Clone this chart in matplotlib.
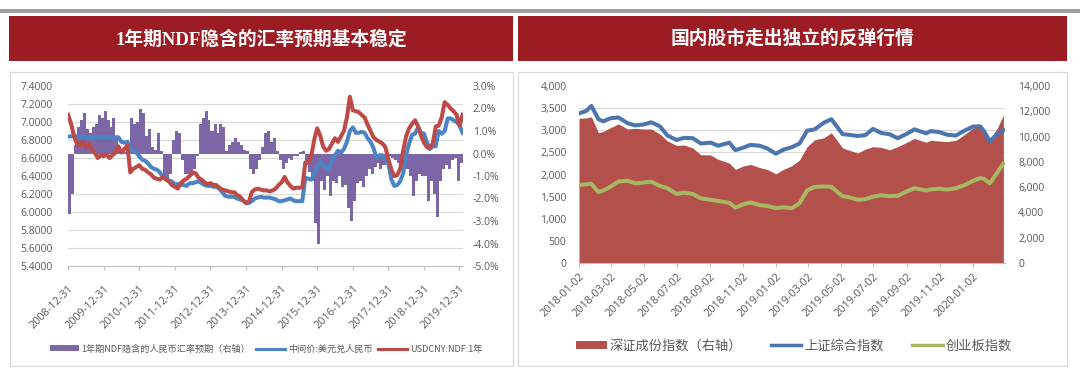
import matplotlib
matplotlib.use("Agg")
import matplotlib.pyplot as plt
import matplotlib.ticker as mticker
from matplotlib.patches import Rectangle, Patch
from matplotlib.lines import Line2D
import pandas as pd

plt.rcParams['font.family'] = ['Open Sans', 'Noto Sans CJK SC', 'DejaVu Sans']

# ---------------- data: left chart (monthly, start of month) ----------------
left_months = pd.date_range("2009-01-01", periods=134, freq="MS")

parity = [  # 中间价:美元兑人民币
    6.84, 6.84, 6.84, 6.84, 6.83, 6.83, 6.83, 6.83, 6.83, 6.83, 6.83, 6.83,
    6.83, 6.83, 6.83, 6.83, 6.83, 6.83, 6.78, 6.77, 6.78, 6.70, 6.67, 6.66,
    6.62, 6.58, 6.57, 6.54, 6.50, 6.48, 6.47, 6.44, 6.39, 6.38, 6.35, 6.34,
    6.31, 6.31, 6.30, 6.30, 6.29, 6.32, 6.32, 6.33, 6.34, 6.32, 6.30, 6.29,
    6.29, 6.28, 6.28, 6.26, 6.22, 6.18, 6.17, 6.17, 6.17, 6.15, 6.14, 6.13,
    6.10, 6.10, 6.12, 6.15, 6.16, 6.17, 6.16, 6.16, 6.16, 6.15, 6.14, 6.12,
    6.12, 6.13, 6.14, 6.15, 6.13, 6.12, 6.12, 6.12, 6.38, 6.37, 6.36, 6.42,
    6.50, 6.55, 6.52, 6.48, 6.48, 6.58, 6.63, 6.68, 6.66, 6.70, 6.78, 6.90,
    6.94, 6.88, 6.88, 6.89, 6.88, 6.82, 6.78, 6.71, 6.60, 6.63, 6.63, 6.59,
    6.53, 6.36, 6.29, 6.30, 6.34, 6.43, 6.63, 6.76, 6.86, 6.87, 6.94, 6.88,
    6.87, 6.77, 6.70, 6.73, 6.73, 6.90, 6.87, 6.90, 7.04, 7.04, 7.02, 7.00,
    6.96, 6.88,
]

ndf = [  # USDCNY:NDF:1年
    7.08, 6.98, 6.85, 6.76, 6.74, 6.78, 6.72, 6.76, 6.70, 6.66, 6.60, 6.63,
    6.62, 6.64, 6.60, 6.63, 6.66, 6.73, 6.66, 6.70, 6.74, 6.44, 6.48, 6.50,
    6.52, 6.48, 6.47, 6.44, 6.42, 6.38, 6.37, 6.36, 6.39, 6.36, 6.34, 6.30,
    6.28, 6.26, 6.32, 6.35, 6.37, 6.40, 6.44, 6.43, 6.38, 6.36, 6.33, 6.31,
    6.32, 6.30, 6.30, 6.27, 6.25, 6.24, 6.23, 6.22, 6.22, 6.19, 6.17, 6.13,
    6.10, 6.12, 6.22, 6.25, 6.26, 6.25, 6.24, 6.24, 6.23, 6.24, 6.26, 6.30,
    6.33, 6.39, 6.33, 6.29, 6.26, 6.27, 6.27, 6.27, 6.55, 6.55, 6.62, 6.80,
    6.93, 6.85, 6.73, 6.68, 6.70, 6.76, 6.82, 6.78, 6.84, 6.90, 7.05, 7.28,
    7.13, 7.12, 7.11, 7.08, 7.05, 6.97, 6.90, 6.83, 6.80, 6.78, 6.76, 6.72,
    6.58, 6.47, 6.40, 6.41, 6.48, 6.68, 6.84, 6.93, 6.98, 7.02, 6.95, 6.85,
    6.77, 6.72, 6.71, 6.76, 6.95, 6.96, 7.05, 7.22, 7.19, 7.15, 7.12, 7.08,
    6.96, 7.08,
]

implied = [  # 1年期NDF隐含的人民币汇率预期（右轴）, %
    -2.7, -1.8, 0.4, 1.2, 1.5, 1.8, 1.1, 0.9, 1.2, 1.3, 1.7, 1.6,
    1.9, 1.5, 1.2, 1.6, 0.7, 0.3, 0.05, 0.05, 0.4, 1.6, 1.3, 1.4,
    2.0, 1.8, 0.8, 1.1, 0.3, 0.15, 0.9, 0.1, -1.0, -1.2, -0.9, 0.6,
    1.0, 0.9, -0.3, -0.9, -0.9, -1.0, -0.7, -0.1, 1.3, 1.6, 1.9, 1.5,
    1.0, 1.3, 0.9, 1.3, 1.2, 0.1, 0.4, 0.5, 0.7, 0.5, 0.4, 0.15,
    0.1, -0.7, -0.9, -0.7, -0.3, 0.3, 0.9, 1.0, 0.5, 0.7, 0.1, -0.3,
    -0.7, -0.4, -0.2, -0.3, -0.1, -0.1, 0.05, 0.1, -0.5, -0.8, -1.2, -3.1,
    -4.0, -1.2, -1.6, -1.0, -1.9, -1.2, -1.3, -1.0, -1.5, -1.4, -2.4, -3.0,
    -2.1, -1.3, -1.2, -1.5, -1.0, -0.7, -0.9, -0.6, -0.4, -0.7, -0.5, -0.2,
    -0.1, -0.2, -0.3, -0.4, -0.5, -0.6, -0.7, -1.0, -1.9, -1.2, -0.9, -1.0,
    -1.0, -2.1, -1.2, -1.8, -2.8, -1.2, -0.7, -0.5, -0.7, -0.3, -0.2, -1.2,
    -0.4, -1.1,
]

left_ticks = ["2008-12-31", "2009-12-31", "2010-12-31", "2011-12-31",
              "2012-12-31", "2013-12-31", "2014-12-31", "2015-12-31",
              "2016-12-31", "2017-12-31", "2018-12-31", "2019-12-31"]
left_labels = ["1年期NDF隐含的人民币汇率预期（右轴）", "中间价:美元兑人民币", "USDCNY:NDF:1年"]

# ---------------- data: right chart ----------------
right_dates = [
    "2018-01-02", "2018-01-16", "2018-01-25", "2018-02-07", "2018-02-16",
    "2018-03-01", "2018-03-16", "2018-04-02", "2018-04-16", "2018-05-02",
    "2018-05-16", "2018-06-01", "2018-06-15", "2018-07-02", "2018-07-16",
    "2018-08-01", "2018-08-16", "2018-09-03", "2018-09-17", "2018-10-08",
    "2018-10-19", "2018-11-01", "2018-11-16", "2018-12-03", "2018-12-17",
    "2019-01-02", "2019-01-16", "2019-02-01", "2019-02-15", "2019-03-01",
    "2019-03-15", "2019-04-01", "2019-04-15", "2019-05-06", "2019-05-16",
    "2019-06-03", "2019-06-17", "2019-07-01", "2019-07-16", "2019-08-01",
    "2019-08-16", "2019-09-02", "2019-09-16", "2019-10-08", "2019-10-16",
    "2019-11-01", "2019-11-15", "2019-12-02", "2019-12-16", "2020-01-02",
    "2020-01-16", "2020-01-23", "2020-02-03", "2020-02-17", "2020-02-28",
]
szci = [  # 深证成份指数（右轴）
    11440, 11480, 11560, 10300, 10400, 10700, 11000, 10600, 10650, 10600,
    10600, 10200, 9650, 9300, 9330, 9100, 8560, 8550, 8200, 7900,
    7400, 7650, 7800, 7550, 7400, 7050, 7400, 7700, 8150, 9200,
    9750, 9900, 10300, 9100, 8950, 8700, 9000, 9200, 9150, 8950,
    9200, 9550, 9850, 9550, 9700, 9650, 9600, 9700, 10100, 10650,
    10900, 10500, 9750, 10700, 11700,
]
shci = [  # 上证综合指数
    3380, 3440, 3550, 3250, 3200, 3270, 3290, 3160, 3110, 3130,
    3180, 3090, 2880, 2780, 2830, 2820, 2700, 2720, 2650, 2720,
    2550, 2600, 2670, 2650, 2590, 2470, 2560, 2620, 2700, 2990,
    3020, 3170, 3250, 2910, 2900, 2870, 2890, 3030, 2940, 2910,
    2820, 2920, 3020, 2930, 2980, 2960, 2900, 2880, 2980, 3080,
    3090, 2980, 2750, 2920, 3000,
]
chinext = [  # 创业板指数
    1760, 1780, 1790, 1600, 1640, 1720, 1840, 1860, 1800, 1820,
    1840, 1740, 1690, 1560, 1590, 1560, 1460, 1430, 1400, 1360,
    1250, 1320, 1370, 1310, 1290, 1240, 1260, 1240, 1350, 1640,
    1720, 1730, 1720, 1510, 1490, 1430, 1440, 1500, 1530, 1510,
    1520, 1620, 1690, 1640, 1660, 1680, 1660, 1690, 1750, 1850,
    1920, 1900, 1800, 2050, 2250,
]
right_ticks = ["2018-01-02", "2018-03-02", "2018-05-02", "2018-07-02",
               "2018-09-02", "2018-11-02", "2019-01-02", "2019-03-02",
               "2019-05-02", "2019-07-02", "2019-09-02", "2019-11-02",
               "2020-01-02"]
right_labels = ["深证成份指数（右轴）", "上证综合指数", "创业板指数"]

left_title = "1年期NDF隐含的汇率预期基本稳定"
right_title = "国内股市走出独立的反弹行情"

# ---------------- styles ----------------
TITLE_RED = "#9C1C24"
PURPLE = "#7D66A6"
BLUE_L = "#4A84C4"
RED_L = "#BD4A46"
AREA_RED = "#B3504B"
BLUE_R = "#4B75AC"
GREEN_R = "#A6B862"
GRID = "#d9d9d9"
TXT = "#595959"

W, H = 1080, 371
fig = plt.figure(figsize=(W / 100, H / 100), dpi=100)
fig.patch.set_facecolor("white")


def frect(x0, y0, x1, y1, **kw):
    r = Rectangle((x0 / W, 1 - y1 / H), (x1 - x0) / W, (y1 - y0) / H,
                  transform=fig.transFigure, **kw)
    fig.add_artist(r)
    return r


frect(0, 8.5, 1080, 12.5, facecolor="#9e9e9e", edgecolor="none", zorder=-10)
frect(9, 16, 513, 61, facecolor=TITLE_RED, edgecolor="none", zorder=-10)
frect(518, 16, 1067, 61, facecolor=TITLE_RED, edgecolor="none", zorder=-10)
frect(9.5, 72, 513, 366, facecolor="white", edgecolor=GRID, lw=0.9, zorder=-10)
frect(517.5, 72, 1067, 366, facecolor="white", edgecolor=GRID, lw=0.9, zorder=-10)

title_font = ["Liberation Serif", "Noto Sans CJK SC"]
fig.text(261 / W, 1 - 39 / H, left_title, color="white", fontsize=13.5,
         fontweight="bold", family=title_font, ha="center", va="center")
fig.text(792 / W, 1 - 39 / H, right_title, color="white", fontsize=13.5,
         fontweight="bold", family=title_font, ha="center", va="center")


def style_axes(ax, ax2, xpad):
    for a in (ax, ax2):
        for s in a.spines.values():
            s.set_visible(False)
    ax.spines["bottom"].set_visible(True)
    ax.spines["bottom"].set_color("#bfbfbf")
    ax.spines["bottom"].set_linewidth(0.8)
    ax.tick_params(axis="x", length=3, width=0.8, color="#bfbfbf",
                   labelsize=7.8, labelcolor=TXT, pad=xpad)
    for lbl in ax.get_xticklabels():
        lbl.set_rotation(45)
        lbl.set_ha("right")
        lbl.set_va("top")
        lbl.set_rotation_mode("anchor")


# ---------------- left chart ----------------
axL = fig.add_axes([68 / W, 1 - 266 / H, (463 - 68) / W, (266 - 86) / H])
axL2 = axL.twinx()
axL2.set_zorder(1)
axL.set_zorder(2)
axL.patch.set_visible(False)

axL2.bar(left_months, implied, width=31, align="edge", color=PURPLE, linewidth=0)
axL2.set_ylim(-5, 3)
axL2.yaxis.set_major_locator(mticker.MultipleLocator(1))
axL2.yaxis.set_major_formatter(mticker.FuncFormatter(lambda v, p: f"{v:.1f}%"))
axL2.yaxis.set_minor_locator(mticker.FixedLocator([-5 + 0.8 * k for k in range(11)]))
axL2.grid(which="minor", axis="y", color=GRID, lw=0.8)
axL2.set_axisbelow(True)
axL2.tick_params(axis="y", which="both", length=0, labelsize=7.5, labelcolor=TXT, pad=7)

axL.plot(left_months, parity, color=BLUE_L, lw=2.9)
axL.plot(left_months, ndf, color=RED_L, lw=2.9)
axL.set_ylim(5.4, 7.4)
axL.yaxis.set_major_locator(mticker.MultipleLocator(0.2))
axL.yaxis.set_major_formatter(mticker.FormatStrFormatter("%.4f"))
axL.tick_params(axis="y", length=0, labelsize=7.5, labelcolor=TXT, pad=11)
axL.set_xlim(pd.Timestamp("2008-12-31"), pd.Timestamp("2020-02-05"))
axL.set_xticks(pd.to_datetime(left_ticks))
axL.set_xticklabels(left_ticks)
style_axes(axL, axL2, 9)

legL = [Patch(facecolor=PURPLE, edgecolor="none"),
        Line2D([], [], color=BLUE_L, lw=2.2),
        Line2D([], [], color=RED_L, lw=2.2)]
fig.legend(legL, left_labels, loc="center", bbox_to_anchor=(266 / W, 1 - 349 / H),
           ncol=3, frameon=False, handlelength=3.2, handleheight=0.6,
           columnspacing=0.6, handletextpad=0.3, labelcolor=TXT,
           prop={"family": ["Noto Sans CJK SC"], "size": 6.6})

# ---------------- right chart ----------------
axR = fig.add_axes([579 / W, 1 - 263 / H, (1005 - 579) / W, (263 - 86) / H])
axR2 = axR.twinx()
axR2.set_zorder(1)
axR.set_zorder(2)
axR.patch.set_visible(False)

rd = pd.to_datetime(right_dates)
axR2.fill_between(rd, 0, szci, color=AREA_RED, linewidth=0)
axR2.set_ylim(0, 14000)
axR2.yaxis.set_major_locator(mticker.MultipleLocator(2000))
axR2.yaxis.set_major_formatter(mticker.StrMethodFormatter("{x:,.0f}"))
axR2.yaxis.set_minor_locator(mticker.MultipleLocator(1750))
axR2.grid(which="minor", axis="y", color=GRID, lw=0.8)
axR2.set_axisbelow(True)
axR2.tick_params(axis="y", which="both", length=0, labelsize=7.5, labelcolor=TXT, pad=9.5)

axR.plot(rd, shci, color=BLUE_R, lw=2.9)
axR.plot(rd, chinext, color=GREEN_R, lw=2.9)
axR.set_ylim(0, 4000)
axR.yaxis.set_major_locator(mticker.MultipleLocator(500))
axR.yaxis.set_major_formatter(mticker.StrMethodFormatter("{x:,.0f}"))
axR.tick_params(axis="y", length=0, labelsize=7.5, labelcolor=TXT, pad=9)
axR.set_xlim(pd.Timestamp("2018-01-02"), pd.Timestamp("2020-03-02"))
axR.set_xticks(pd.to_datetime(right_ticks))
axR.set_xticklabels(right_ticks)
style_axes(axR, axR2, 3)

legR = [Patch(facecolor=AREA_RED, edgecolor="none"),
        Line2D([], [], color=BLUE_R, lw=2.5),
        Line2D([], [], color=GREEN_R, lw=2.5)]
fig.legend(legR, right_labels, loc="center", bbox_to_anchor=(794 / W, 1 - 346 / H),
           ncol=3, frameon=False, handlelength=2.3, handleheight=0.55,
           columnspacing=2.2, handletextpad=0.2, labelcolor=TXT,
           prop={"family": ["Noto Sans CJK SC"], "size": 9.5})

fig.savefig("out.png", dpi=100)
